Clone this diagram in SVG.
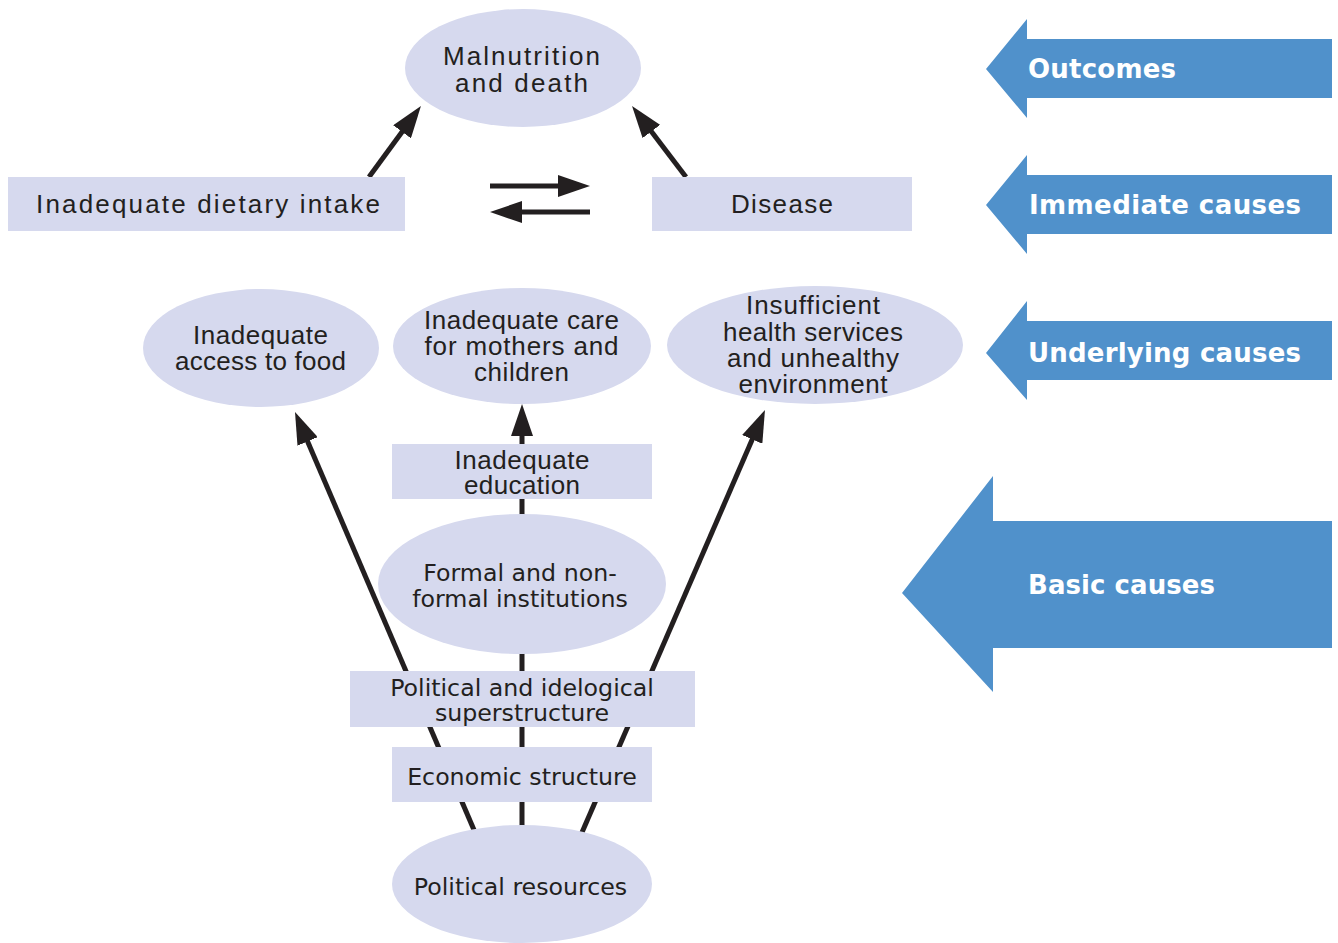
<svg xmlns="http://www.w3.org/2000/svg" width="1338" height="943" viewBox="0 0 1338 943">
  <style>
    .node { fill: #d6d9ee; }
    .band { fill: #5091cb; }
    .link { stroke: #231f20; stroke-width: 5; fill: none; marker-end: url(#head); }
    .t1 { font-family: "Liberation Sans", Arial, sans-serif; font-size: 26px; fill: #231f20; text-anchor: middle; }
    .t2 { font-family: "DejaVu Sans", Verdana, sans-serif; font-size: 23.7px; fill: #231f20; text-anchor: middle; }
    .lbl { font-family: "DejaVu Sans", Verdana, sans-serif; font-size: 26px; font-weight: bold; fill: #ffffff; }
  </style>
  <defs>
    <marker id="head" markerUnits="userSpaceOnUse" markerWidth="32" markerHeight="22" refX="16" refY="11" orient="auto">
      <path d="M0,0 L32,11 L0,22 z" fill="#231f20"/>
    </marker>
  </defs>
  <rect width="1338" height="943" fill="#ffffff"/>

  <!-- level bands on the right -->
  <g id="band-outcomes">
    <polygon class="band" points="986,69 1027,19 1027,39 1332,39 1332,98 1027,98 1027,118"/>
    <text class="lbl" x="1028" y="78" textLength="148">Outcomes</text>
  </g>
  <g id="band-immediate">
    <polygon class="band" points="986,205 1027,155 1027,175 1332,175 1332,234 1027,234 1027,254"/>
    <text class="lbl" x="1029" y="214" textLength="272">Immediate causes</text>
  </g>
  <g id="band-underlying">
    <polygon class="band" points="986,353 1027,301 1027,321 1332,321 1332,380 1027,380 1027,400"/>
    <text class="lbl" x="1028" y="362" textLength="273">Underlying causes</text>
  </g>
  <g id="band-basic">
    <polygon class="band" points="902,593 993,476 993,521 1332,521 1332,648 993,648 993,692"/>
    <text class="lbl" x="1028" y="594" textLength="187">Basic causes</text>
  </g>

  <!-- connectors -->
  <g id="connectors">
    <line class="link" x1="369" y1="177" x2="411.5" y2="118.9"/>
    <line class="link" x1="686" y1="177" x2="641.7" y2="118.7"/>
    <line class="link" x1="490" y1="186" x2="574" y2="186"/>
    <line class="link" x1="590" y1="212" x2="506" y2="212"/>
    <line class="link" x1="522" y1="840" x2="522" y2="420"/>
    <line class="link" x1="478.3" y1="840" x2="301.3" y2="426.7"/>
    <line class="link" x1="578.7" y1="840" x2="758.6" y2="424.7"/>
  </g>

  <!-- outcome -->
  <g id="malnutrition">
    <ellipse class="node" cx="523" cy="68" rx="118" ry="59"/>
    <text class="t1"><tspan x="521.5" y="65" textLength="157">Malnutrition</tspan><tspan x="521.5" y="92" textLength="133">and death</tspan></text>
  </g>

  <!-- immediate causes -->
  <g id="dietary-intake">
    <rect class="node" x="8" y="177" width="397" height="54"/>
    <text class="t1" x="208" y="213" textLength="344">Inadequate dietary intake</text>
  </g>
  <g id="disease">
    <rect class="node" x="652" y="177" width="260" height="54"/>
    <text class="t1" x="782" y="213" textLength="102">Disease</text>
  </g>

  <!-- underlying causes -->
  <g id="food-access">
    <ellipse class="node" cx="261" cy="348" rx="118" ry="59"/>
    <text class="t1"><tspan x="260.5" y="344" textLength="135">Inadequate</tspan><tspan x="260.5" y="370" textLength="171">access to food</tspan></text>
  </g>
  <g id="care">
    <ellipse class="node" cx="522" cy="346" rx="129" ry="58"/>
    <text class="t1"><tspan x="521.5" y="329" textLength="195">Inadequate care</tspan><tspan x="521.5" y="355" textLength="194">for mothers and</tspan><tspan x="521.5" y="381" textLength="95">children</tspan></text>
  </g>
  <g id="health-services">
    <ellipse class="node" cx="815" cy="345" rx="148" ry="59"/>
    <text class="t1"><tspan x="813" y="314" textLength="134">Insufficient</tspan><tspan x="813" y="341" textLength="180">health services</tspan><tspan x="813" y="367" textLength="172">and unhealthy</tspan><tspan x="813" y="393" textLength="149">environment</tspan></text>
  </g>

  <!-- basic causes -->
  <g id="education">
    <rect class="node" x="392" y="444" width="260" height="55"/>
    <text class="t1"><tspan x="522" y="469" textLength="135">Inadequate</tspan><tspan x="522" y="494" textLength="116">education</tspan></text>
  </g>
  <g id="institutions">
    <ellipse class="node" cx="522" cy="584" rx="144" ry="70"/>
    <text class="t2"><tspan x="520" y="580.5">Formal and non-</tspan><tspan x="520" y="607">formal institutions</tspan></text>
  </g>
  <g id="superstructure">
    <rect class="node" x="350" y="671" width="345" height="56"/>
    <text class="t2"><tspan x="522" y="695.5">Political and idelogical</tspan><tspan x="522" y="721">superstructure</tspan></text>
  </g>
  <g id="economic-structure">
    <rect class="node" x="392" y="747" width="260" height="55"/>
    <text class="t2" x="522" y="784.5">Economic structure</text>
  </g>
  <g id="political-resources">
    <ellipse class="node" cx="522" cy="884" rx="130" ry="59"/>
    <text class="t2" x="520.5" y="894.5">Political resources</text>
  </g>
</svg>
